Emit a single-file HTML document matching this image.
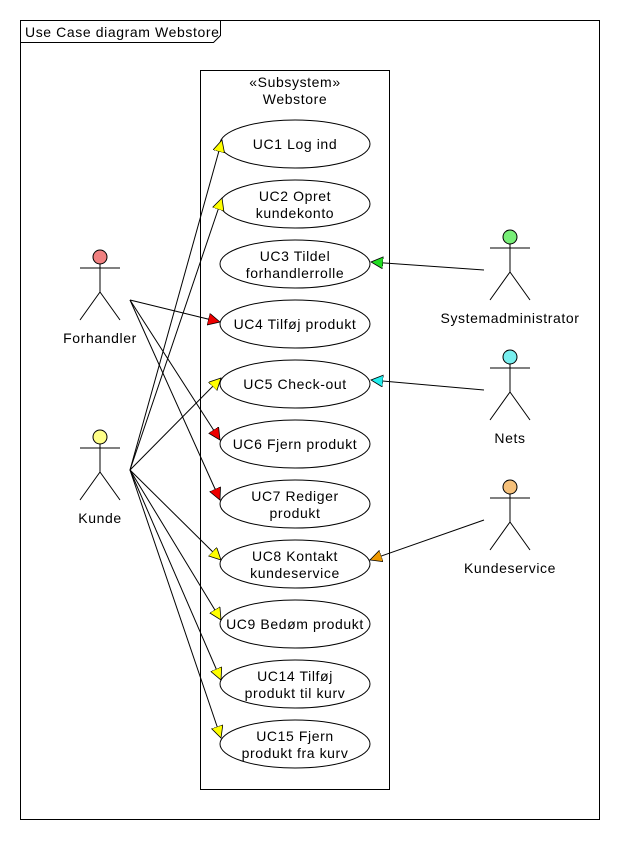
<!DOCTYPE html>
<html><head><meta charset="utf-8"><style>
html,body{margin:0;padding:0;background:#fff;}
svg text{font-family:"Liberation Sans","DejaVu Sans",sans-serif;font-size:14px;fill:#000;letter-spacing:0.6px;}
</style></head><body>
<svg width="620" height="840" viewBox="0 0 620 840" xmlns="http://www.w3.org/2000/svg">
<defs>
<marker id="y" markerWidth="14" markerHeight="14" refX="12" refY="6" orient="auto" markerUnits="userSpaceOnUse"><path d="M0,0 L12,6 L0,12 z" fill="#ffff00" stroke="#000" stroke-width="0.8"/></marker>
<marker id="r" markerWidth="14" markerHeight="14" refX="12" refY="6" orient="auto" markerUnits="userSpaceOnUse"><path d="M0,0 L12,6 L0,12 z" fill="#ee0000" stroke="#000" stroke-width="0.8"/></marker>
<marker id="g" markerWidth="14" markerHeight="14" refX="12" refY="6" orient="auto" markerUnits="userSpaceOnUse"><path d="M0,0 L12,6 L0,12 z" fill="#22dd22" stroke="#000" stroke-width="0.8"/></marker>
<marker id="c" markerWidth="14" markerHeight="14" refX="12" refY="6" orient="auto" markerUnits="userSpaceOnUse"><path d="M0,0 L12,6 L0,12 z" fill="#22eeee" stroke="#000" stroke-width="0.8"/></marker>
<marker id="o" markerWidth="14" markerHeight="14" refX="12" refY="6" orient="auto" markerUnits="userSpaceOnUse"><path d="M0,0 L12,6 L0,12 z" fill="#ee9900" stroke="#000" stroke-width="0.8"/></marker>
</defs>
<rect x="20.5" y="20.5" width="579" height="799" fill="none" stroke="#000"/>
<path d="M20.5,42.5 H213.5 L220.5,35.5 V20.5" fill="none" stroke="#000"/>
<text x="25" y="37">Use Case diagram Webstore</text>
<rect x="200.5" y="70.5" width="189" height="719" fill="none" stroke="#000"/>
<text x="295" y="87" text-anchor="middle">«Subsystem»</text>
<text x="295" y="104" text-anchor="middle">Webstore</text>
<g fill="#fff" stroke="#000">
<ellipse cx="295" cy="144" rx="75" ry="24"/>
<ellipse cx="295" cy="204" rx="75" ry="24"/>
<ellipse cx="295" cy="264" rx="75" ry="24"/>
<ellipse cx="295" cy="324" rx="75" ry="24"/>
<ellipse cx="295" cy="384" rx="75" ry="24"/>
<ellipse cx="295" cy="444" rx="75" ry="24"/>
<ellipse cx="295" cy="504" rx="75" ry="24"/>
<ellipse cx="295" cy="564" rx="75" ry="24"/>
<ellipse cx="295" cy="624" rx="75" ry="24"/>
<ellipse cx="295" cy="684" rx="75" ry="24"/>
<ellipse cx="295" cy="744" rx="75" ry="24"/>
</g>
<g text-anchor="middle">
<text x="295" y="149">UC1 Log ind</text>
<text x="295" y="201">UC2 Opret</text><text x="295" y="218">kundekonto</text>
<text x="295" y="261">UC3 Tildel</text><text x="295" y="278">forhandlerrolle</text>
<text x="295" y="329">UC4 Tilføj produkt</text>
<text x="295" y="389">UC5 Check-out</text>
<text x="295" y="449">UC6 Fjern produkt</text>
<text x="295" y="501">UC7 Rediger</text><text x="295" y="518">produkt</text>
<text x="295" y="561">UC8 Kontakt</text><text x="295" y="578">kundeservice</text>
<text x="295" y="629">UC9 Bedøm produkt</text>
<text x="295" y="681">UC14 Tilføj</text><text x="295" y="698">produkt til kurv</text>
<text x="295" y="741">UC15 Fjern</text><text x="295" y="758">produkt fra kurv</text>
</g>
<g stroke="#000" fill="none">
<line x1="130" y1="470" x2="222" y2="140" marker-end="url(#y)"/>
<line x1="130" y1="470" x2="222" y2="198" marker-end="url(#y)"/>
<line x1="130" y1="470" x2="221" y2="378" marker-end="url(#y)"/>
<line x1="130" y1="470" x2="221" y2="560" marker-end="url(#y)"/>
<line x1="130" y1="470" x2="221" y2="620" marker-end="url(#y)"/>
<line x1="130" y1="470" x2="221" y2="680" marker-end="url(#y)"/>
<line x1="130" y1="470" x2="221" y2="738" marker-end="url(#y)"/>
<line x1="130" y1="300" x2="220" y2="322" marker-end="url(#r)"/>
<line x1="130" y1="300" x2="220" y2="440" marker-end="url(#r)"/>
<line x1="130" y1="300" x2="220" y2="500" marker-end="url(#r)"/>
<line x1="484" y1="270" x2="371" y2="262" marker-end="url(#g)"/>
<line x1="484" y1="390" x2="371" y2="380" marker-end="url(#c)"/>
<line x1="484" y1="520" x2="370" y2="560" marker-end="url(#o)"/>
</g>
<g stroke="#000">
<circle cx="100" cy="257" r="7" fill="#f08080"/>
<path d="M100,264 V292 M80,268 H120 M100,292 L80,320 M100,292 L120,320" fill="none"/>
<circle cx="100" cy="437" r="7" fill="#ffff88"/>
<path d="M100,444 V472 M80,448 H120 M100,472 L80,500 M100,472 L120,500" fill="none"/>
<circle cx="510" cy="237" r="7" fill="#77ee77"/>
<path d="M510,244 V272 M490,248 H530 M510,272 L490,300 M510,272 L530,300" fill="none"/>
<circle cx="510" cy="357" r="7" fill="#77eeee"/>
<path d="M510,364 V392 M490,368 H530 M510,392 L490,420 M510,392 L530,420" fill="none"/>
<circle cx="510" cy="487" r="7" fill="#f5c07a"/>
<path d="M510,494 V522 M490,498 H530 M510,522 L490,550 M510,522 L530,550" fill="none"/>
</g>
<g text-anchor="middle">
<text x="100" y="343">Forhandler</text>
<text x="100" y="523">Kunde</text>
<text x="510" y="323">Systemadministrator</text>
<text x="510" y="443">Nets</text>
<text x="510" y="573">Kundeservice</text>
</g>
</svg>
</body></html>
